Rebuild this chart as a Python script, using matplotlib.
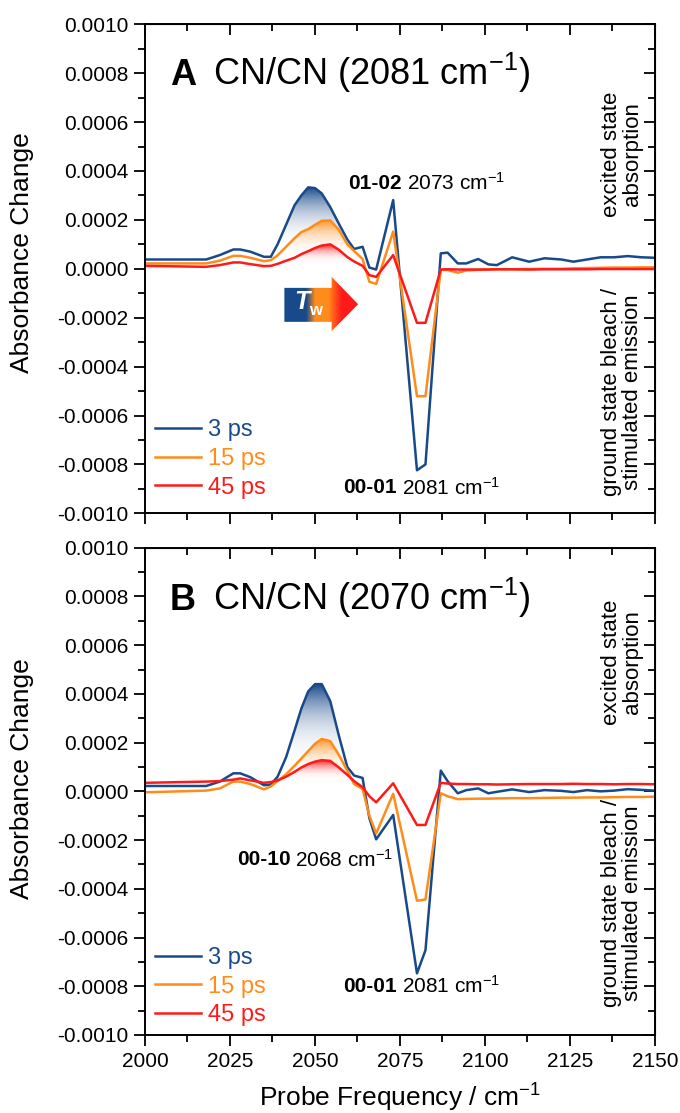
import numpy as np
import matplotlib
matplotlib.use('Agg')
import matplotlib.pyplot as plt
from matplotlib.colors import LinearSegmentedColormap, to_rgba
from matplotlib.patches import Polygon
from matplotlib.ticker import MultipleLocator, FuncFormatter

plt.rcParams['font.family'] = ['Liberation Sans', 'DejaVu Sans']
plt.rcParams['mathtext.fontset'] = 'custom'
plt.rcParams['mathtext.rm'] = 'Liberation Sans'
plt.rcParams['mathtext.it'] = 'Liberation Sans:italic'
plt.rcParams['mathtext.bf'] = 'Liberation Sans:bold'
plt.rcParams['axes.unicode_minus'] = False

BLUE = '#184a8b'
ORANGE = '#ff8c1a'
RED = '#ff1a1a'

# probe frequency (cm-1)
freq = np.array([2000, 2018, 2022, 2026, 2028, 2031, 2035, 2037, 2039, 2041.5,
                 2044, 2046, 2048, 2050, 2052, 2054.5, 2057, 2059.5, 2061.5, 2064,
                 2066, 2068, 2073, 2080, 2082.5, 2087, 2089, 2092, 2094.5, 2098,
                 2101, 2103.5, 2108, 2113, 2117.5, 2122.5, 2126, 2130, 2134, 2138,
                 2142, 2146, 2150])

# absorbance change in units of 1e-4, panel A (pump 2081 cm-1)
a_3ps = [0.38, 0.38, 0.56, 0.79, 0.79, 0.70, 0.49, 0.49, 1.0, 1.8,
         2.6, 3.0, 3.33, 3.3, 3.08, 2.52, 1.85, 1.2, 0.81, 0.9,
         0.05, -0.03, 2.81, -8.24, -8.0, 0.63, 0.66, 0.22, 0.22, 0.40,
         0.18, 0.15, 0.47, 0.29, 0.43, 0.38, 0.29, 0.38, 0.47, 0.47,
         0.52, 0.47, 0.45]
a_15ps = [0.22, 0.22, 0.33, 0.53, 0.53, 0.45, 0.31, 0.35, 0.55, 0.9,
          1.25, 1.5, 1.62, 1.8, 1.96, 1.98, 1.6, 1.0, 0.73, 0.40,
          -0.53, -0.62, 1.52, -5.21, -5.21, -0.03, -0.05, -0.16, -0.07, -0.04,
          -0.03, -0.02, -0.02, -0.01, 0.0, 0.0, 0.02, 0.03, 0.04, 0.05,
          0.05, 0.06, 0.06]
a_45ps = [0.12, 0.08, 0.15, 0.26, 0.26, 0.19, 0.11, 0.12, 0.20, 0.33,
          0.45, 0.6, 0.72, 0.85, 0.95, 1.0, 0.78, 0.48, 0.3, 0.12,
          -0.26, -0.33, 0.56, -2.21, -2.21, -0.03, -0.02, -0.03, -0.03, -0.03,
          -0.03, -0.02, -0.02, -0.03, -0.02, -0.02, -0.02, -0.02, -0.01, -0.01,
          -0.01, -0.01, -0.01]

# panel B (pump 2070 cm-1)
b_3ps = [0.22, 0.22, 0.40, 0.74, 0.74, 0.58, 0.25, 0.28, 0.60, 1.4,
         2.5, 3.4, 4.1, 4.4, 4.4, 3.7, 2.3, 1.0, 0.65, 0.55,
         -1.1, -1.97, -0.97, -7.47, -6.52, 0.85, 0.42, -0.08, 0.05, 0.12,
         -0.08, -0.02, 0.08, -0.03, 0.05, 0.02, -0.03, 0.05, 0.0, 0.03,
         0.09, 0.06, 0.03]
b_15ps = [-0.04, 0.03, 0.12, 0.40, 0.40, 0.30, 0.08, 0.20, 0.42, 0.7,
          1.05, 1.35, 1.65, 1.95, 2.15, 2.06, 1.5, 0.85, 0.3, 0.1,
          -1.0, -1.73, -0.10, -4.49, -4.44, -0.08, -0.2, -0.32, -0.31, -0.3,
          -0.3, -0.29, -0.28, -0.28, -0.27, -0.26, -0.26, -0.25, -0.25, -0.24,
          -0.23, -0.23, -0.22]
b_45ps = [0.35, 0.40, 0.42, 0.48, 0.53, 0.45, 0.35, 0.38, 0.45, 0.6,
          0.8, 0.98, 1.12, 1.22, 1.28, 1.25, 0.98, 0.68, 0.42, 0.17,
          -0.2, -0.45, 0.33, -1.38, -1.38, 0.35, 0.32, 0.30, 0.30, 0.29,
          0.29, 0.28, 0.29, 0.30, 0.30, 0.30, 0.31, 0.30, 0.30, 0.29,
          0.30, 0.30, 0.29]

labels = ['3 ps', '15 ps', '45 ps']
SCALE = 1e-4


def grad_fill(ax, lo, hi, x0, x1, color, ytop, ybot):
    m = (freq >= x0) & (freq <= x1)
    lo = np.asarray(lo)[m] * SCALE
    hi = np.maximum(np.asarray(hi)[m] * SCALE, lo)
    poly = ax.fill_between(freq[m], lo, hi, facecolor='none', edgecolor='none')
    cmap = LinearSegmentedColormap.from_list('g', [(1, 1, 1, 0), to_rgba(color)])
    g = np.linspace(1, 0, 256).reshape(-1, 1) ** 1.3
    img = ax.imshow(g, extent=[x0, x1, ybot * SCALE, ytop * SCALE], origin='upper',
                    aspect='auto', cmap=cmap, vmin=0, vmax=1, zorder=1,
                    interpolation='bilinear')
    img.set_clip_path(poly.get_paths()[0], transform=ax.transData)


def tw_arrow(ax):
    verts = [(2041, -0.78), (2054.9, -0.78), (2054.9, -0.33), (2062.7, -1.45),
             (2054.9, -2.55), (2054.9, -2.17), (2041, -2.17)]
    verts = [(x, y * SCALE) for x, y in verts]
    poly = Polygon(verts, closed=True, facecolor='none', edgecolor='none')
    ax.add_patch(poly)
    cmap = LinearSegmentedColormap.from_list(
        'tw', [(0, BLUE), (0.3, BLUE), (0.42, ORANGE), (0.6, ORANGE),
               (0.78, RED), (1, RED)])
    g = np.linspace(0, 1, 256).reshape(1, -1)
    img = ax.imshow(g, extent=[2041, 2062.7, -2.6 * SCALE, -0.3 * SCALE],
                    aspect='auto', cmap=cmap, zorder=3, interpolation='bilinear')
    img.set_clip_path(poly)
    ax.text(2046.2, -1.36 * SCALE, 'T', color='white', fontsize=18,
            fontweight='bold', fontstyle='italic', ha='center', va='center', zorder=4)
    ax.text(2050.2, -1.72 * SCALE, 'w', color='white', fontsize=12,
            fontweight='bold', ha='center', va='center', zorder=4)


def style_axes(ax, show_xlabels, ylab_y):
    ax.set_xlim(2000, 2150)
    ax.set_ylim(-0.001, 0.001)
    ax.xaxis.set_major_locator(MultipleLocator(25))
    ax.xaxis.set_minor_locator(MultipleLocator(12.5))
    ax.yaxis.set_major_locator(MultipleLocator(0.0002))
    ax.yaxis.set_minor_locator(MultipleLocator(0.0001))
    ax.yaxis.set_major_formatter(FuncFormatter(lambda v, p: f'{v + 0.0:.4f}'))
    ax.tick_params(which='major', direction='out', length=8, width=1.3,
                   labelsize=15, pad=4)
    ax.tick_params(which='minor', direction='out', length=5, width=1.3)
    if not show_xlabels:
        ax.tick_params(axis='x', labelbottom=False)
    for s in ax.spines.values():
        s.set_linewidth(1.4)

    top = ax.secondary_xaxis('top')
    top.xaxis.set_major_locator(MultipleLocator(25))
    top.xaxis.set_minor_locator(MultipleLocator(12.5))
    top.tick_params(which='major', direction='in', length=8, width=1.3)
    top.tick_params(which='minor', direction='in', length=5, width=1.3)
    top.tick_params(labeltop=False, labelbottom=False)

    right = ax.secondary_yaxis('right')
    right.yaxis.set_major_locator(MultipleLocator(0.0002))
    right.yaxis.set_minor_locator(MultipleLocator(0.0001))
    right.tick_params(which='major', direction='in', length=8, width=1.3)
    right.tick_params(which='minor', direction='in', length=5, width=1.3)
    right.tick_params(labelright=False, labelleft=False)

    ax.set_ylabel('Absorbance Change', fontsize=19)
    ax.yaxis.set_label_coords(-0.218, ylab_y)


def draw_panel(ax, series, letter, pump, fills, ann, side_y, leg_y):
    for s, c, lab in zip(series, [BLUE, ORANGE, RED], labels):
        ax.plot(freq, np.asarray(s) * SCALE, color=c, lw=1.8, label=lab, zorder=2)
    for f in fills:
        grad_fill(ax, *f)
    ax.legend(loc='lower left', bbox_to_anchor=(0.02, leg_y), frameon=False,
              fontsize=17, labelcolor='linecolor', handlelength=1.95,
              handletextpad=0.3, labelspacing=0.28, borderpad=0, borderaxespad=0)
    ax.text(0.049, side_y[0], letter, transform=ax.transAxes, fontsize=26,
            fontweight='bold', va='baseline')
    ax.text(0.133, side_y[0], f'CN/CN ({pump} cm$^{{-1}}$)', transform=ax.transAxes,
            fontsize=26, va='baseline')
    for bold, rest, xb, y in ann:
        ax.text(xb, y, bold, transform=ax.transAxes, fontsize=15,
                fontweight='bold', ha='right', va='center')
        ax.text(xb + 0.01, y, rest + ' cm$^{-1}$', transform=ax.transAxes,
                fontsize=15, ha='left', va='center')
    ax.text(0.935, side_y[1], 'excited state\nabsorption', transform=ax.transAxes,
            rotation=90, fontsize=16, ha='center', va='center',
            multialignment='center', linespacing=1.0)
    ax.text(0.935, side_y[2], 'ground state bleach /\nstimulated emission',
            transform=ax.transAxes, rotation=90, fontsize=16, ha='center',
            va='center', multialignment='center', linespacing=1.0)


def main():
    fig = plt.figure(figsize=(6.8, 11.13), dpi=100)
    ax_a = fig.add_axes([0.2132, 0.5388, 0.75, 0.4394])
    ax_b = fig.add_axes([0.2132, 0.0701, 0.75, 0.4378])

    draw_panel(ax_a, [a_3ps, a_15ps, a_45ps], 'A', 2081,
               [(a_15ps, a_3ps, 2037, 2061.5, BLUE, 3.33, 0.6),
                (a_45ps, a_15ps, 2035, 2061.5, ORANGE, 2.0, 0.3),
                ([0.12] * len(freq), a_45ps, 2039, 2064, RED, 1.0, 0.15)],
               [('01-02', '2073', 0.503, 0.675), ('00-01', '2081', 0.493, 0.052)],
               (0.876, 0.735, 0.248), 0.03)
    tw_arrow(ax_a)
    style_axes(ax_a, False, 0.533)

    draw_panel(ax_b, [b_3ps, b_15ps, b_45ps], 'B', 2070,
               [(b_15ps, b_3ps, 2037, 2061.5, BLUE, 4.4, 0.8),
                (b_45ps, b_15ps, 2039, 2059.5, ORANGE, 2.17, 0.5),
                ([0.4] * len(freq), b_45ps, 2039, 2064, RED, 1.28, 0.4)],
               [('00-10', '2068', 0.285, 0.36), ('00-01', '2081', 0.493, 0.1)],
               (0.872, 0.765, 0.27), 0.018)
    style_axes(ax_b, True, 0.527)
    ax_b.set_xlabel('Probe Frequency / cm$^{-1}$', fontsize=19)
    ax_b.xaxis.set_label_coords(0.5, -0.097)

    fig.savefig('out.png', dpi=100)


if __name__ == '__main__':
    main()
